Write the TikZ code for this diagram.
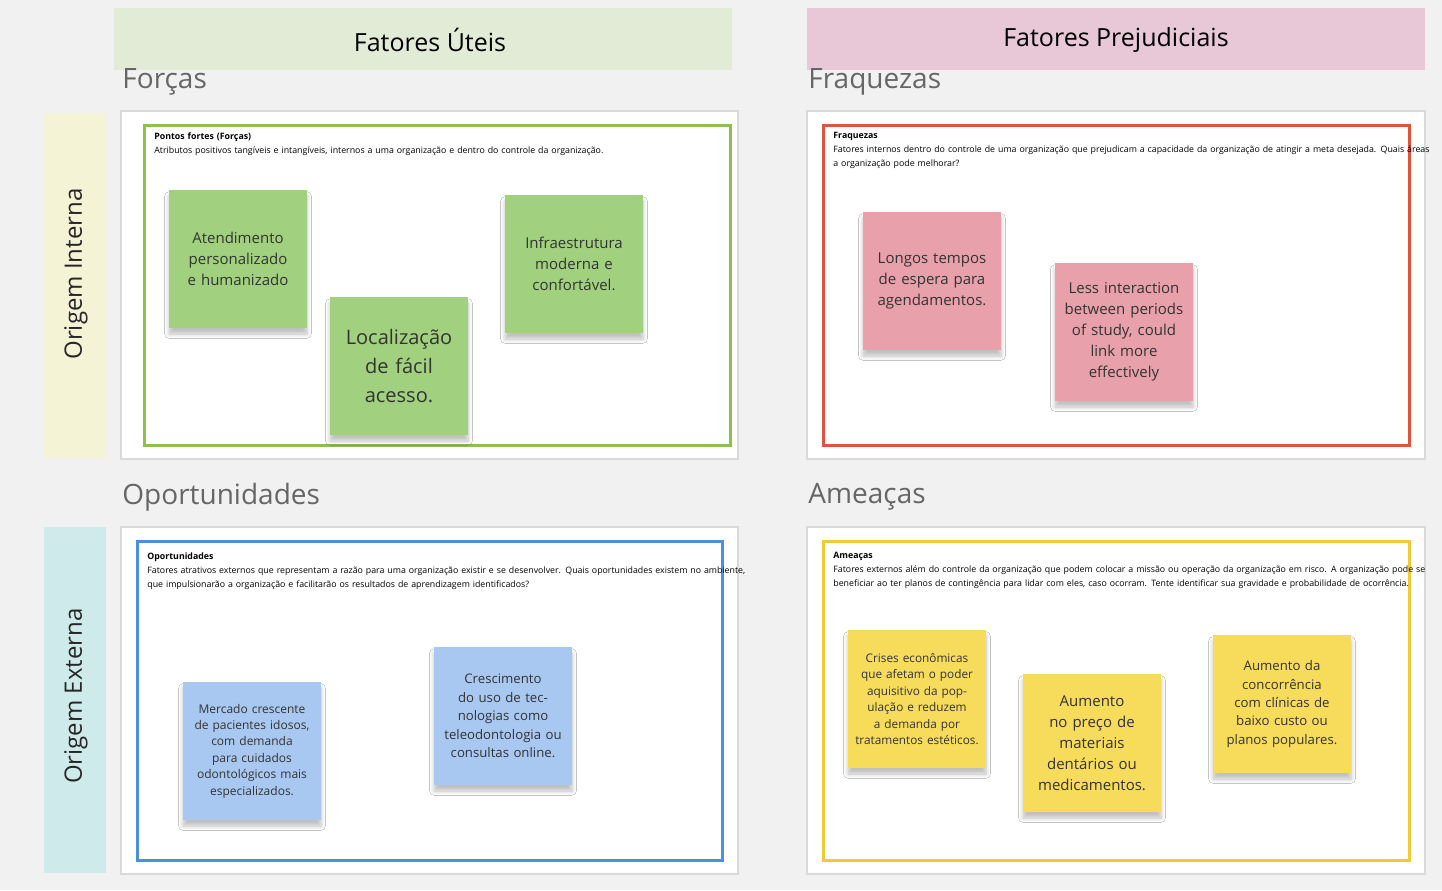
\documentclass[tikz,border=0pt]{standalone}
\usepackage{fontspec}
\setmainfont{Open Sans}
\usetikzlibrary{positioning, shadows.blur}
\definecolor{bg}{HTML}{F1F1F1}
\definecolor{hdgood}{HTML}{E2EBD6}
\definecolor{hdbad}{HTML}{E8C7D7}
\definecolor{sidein}{HTML}{F4F3D6}
\definecolor{sideex}{HTML}{CFEAEA}
\definecolor{fgreen}{HTML}{8CC152}
\definecolor{fred}{HTML}{DF553B}
\definecolor{fblue}{HTML}{4A90E2}
\definecolor{fyellow}{HTML}{F2C937}
\definecolor{ngreen}{HTML}{A1D17E}
\definecolor{nred}{HTML}{E8A1AB}
\definecolor{nblue}{HTML}{A9C8F1}
\definecolor{nyellow}{HTML}{F7DC5C}
\tikzset{x=0.5pt, y=-0.5pt,
  header/.style={anchor=north west, inner sep=0pt, font=\fontsize{13}{15}\selectfont, text=black!85},
  quadtitle/.style={anchor=west, inner sep=0pt, font=\fontsize{14}{16}\selectfont, text=black!60},
  side/.style={rotate=90, font=\fontsize{12}{14}\selectfont, text=black!85},
  panel/.style={draw=black!15, line width=0.6pt, fill=white},
  frame/.style={line width=1.5pt},
  info/.style={anchor=north west, align=left, text width=300pt, inner sep=0pt, font=\fontsize{4.4}{7}\selectfont},
  sticky/.style={minimum width=69pt, minimum height=69pt, text width=62pt, align=center, inner sep=0pt,
    font=\fontsize{7.5}{10.5}\selectfont, text=black!80, blur shadow={shadow xshift=0pt, shadow yshift=-3pt, shadow opacity=25, shadow blur steps=6}}
}
\begin{document}
\begin{tikzpicture}
\fill[bg] (0,0) rectangle (1442,890);
\useasboundingbox (0,0) rectangle (1442,890);
% column headers
\fill[hdgood] (114,8) rectangle (732,70);
\node[font=\fontsize{12.5}{15}\selectfont] (uteis) at (430,40) {Fatores Úteis};
\fill[hdbad] (807,8) rectangle (1425,70);
\node[font=\fontsize{12.5}{15}\selectfont] (prejud) at (1116,40) {Fatores Prejudiciais};
% row labels
\fill[sidein] (44,113) rectangle (106,458);
\node[side] (interna) at (76,274) {Origem Interna};
\fill[sideex] (44,527) rectangle (106,873);
\node[side] (externa) at (76,696) {Origem Externa};
% quadrant titles
\node[quadtitle] (forcas) at (122,82) {Forças};
\node[quadtitle] (fraq) at (808,82) {Fraquezas};
\node[quadtitle] (oport) at (122,497) {Oportunidades};
\node[quadtitle] (ameacas) at (808,497) {Ameaças};
% panels
\draw[panel] (121,111) rectangle (738,459);
\draw[panel] (807,111) rectangle (1425,459);
\draw[panel] (121,527) rectangle (738,874);
\draw[panel] (807,527) rectangle (1425,874);
\draw[frame, draw=fgreen] (144,125) rectangle (730,445);
\draw[frame, draw=fred] (823,125) rectangle (1409,445);
\draw[frame, draw=fblue] (137,541) rectangle (722,860);
\draw[frame, draw=fyellow] (823,541) rectangle (1409,860);
% panel texts
\node[info] (infoF) at (154,132) {\textbf{Pontos fortes (Forças)}\\Atributos positivos tangíveis e intangíveis, internos a uma organização e dentro do controle da organização.};
\node[info] (infoW) at (833,132) {\textbf{Fraquezas}\\Fatores internos dentro do controle de uma organização que prejudicam a capacidade da organização de atingir a meta desejada. Quais áreas a organização pode melhorar?};
\node[info] (infoO) at (147,552) {\textbf{Oportunidades}\\Fatores atrativos externos que representam a razão para uma organização existir e se desenvolver. Quais oportunidades existem no ambiente, que impulsionarão a organização e facilitarão os resultados de aprendizagem identificados?};
\node[info] (infoT) at (833,552) {\textbf{Ameaças}\\Fatores externos além do controle da organização que podem colocar a missão ou operação da organização em risco. A organização pode se beneficiar ao ter planos de contingência para lidar com eles, caso ocorram. Tente identificar sua gravidade e probabilidade de ocorrência.};
% sticky notes
\node[sticky, fill=ngreen] (atend) at (238,259) {Atendimento personalizado e humanizado};
\node[sticky, fill=ngreen, font=\fontsize{10}{14.5}\selectfont] (local) at (399,366) {Localização de fácil acesso.};
\node[sticky, fill=ngreen] (infra) at (574,264) {Infraestrutura moderna e confortável.};
\node[sticky, fill=nred] (longos) at (932,281) {Longos tempos de espera para agendamentos.};
\node[sticky, fill=nred] (less) at (1124,332) {Less interaction between periods of study, could link more effectively};
\node[sticky, fill=nblue, font=\fontsize{6}{8.2}\selectfont] (mercado) at (252,751) {Mercado crescente de pacientes idosos, com demanda para cuidados odontológicos mais especializados.};
\node[sticky, fill=nblue, font=\fontsize{6.6}{9.2}\selectfont] (cresc) at (503,716) {Crescimento do uso de tecnologias como teleodontologia ou consultas online.};
\node[sticky, fill=nyellow, font=\fontsize{5.9}{8.2}\selectfont] (crises) at (917,699) {Crises econômicas que afetam o poder aquisitivo da população e reduzem a demanda por tratamentos estéticos.};
\node[sticky, fill=nyellow] (precos) at (1092,743) {Aumento no preço de materiais dentários ou medicamentos.};
\node[sticky, fill=nyellow, font=\fontsize{6.6}{9.2}\selectfont] (concor) at (1282,704) {Aumento da concorrência com clínicas de baixo custo ou planos populares.};
\end{tikzpicture}
\end{document}
